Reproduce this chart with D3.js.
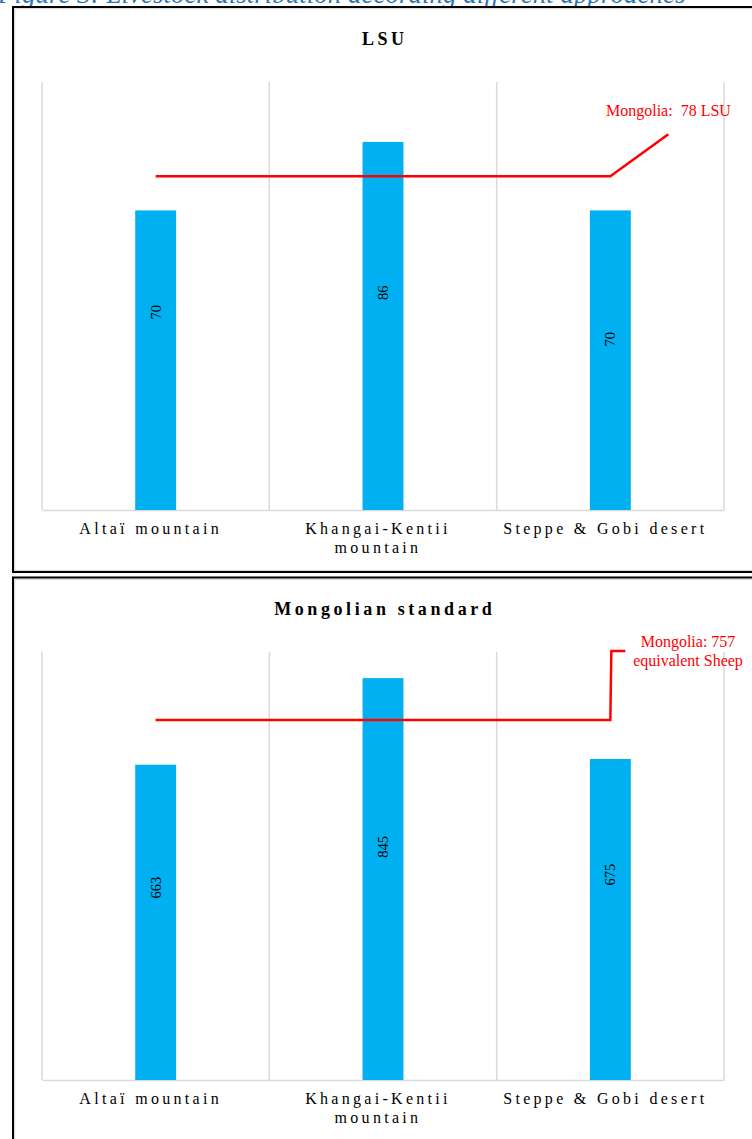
<!DOCTYPE html>
<html>
<head>
<meta charset="utf-8">
<script src="https://cdn.jsdelivr.net/npm/d3@7/dist/d3.min.js"></script>
<style>
  html, body { margin: 0; padding: 0; background: #fff; }
  svg { display: block; }
  text { font-family: "Liberation Serif", "Times New Roman", serif; }
</style>
</head>
<body>
<svg id="chart" width="752" height="1139"></svg>
<script>
// Regions and their axis labels (one entry per line)
const categories = ["Altaï mountain", "Khangai-Kentii mountain", "Steppe & Gobi desert"];
const tickLabels = [["Altaï mountain"], ["Khangai-Kentii", "mountain"], ["Steppe & Gobi desert"]];

// Livestock units (LSU) per region, national reference and axis maximum
const lsuValues = [70, 86, 70];
const lsuNational = 78;
const lsuAxisMax = 100;

// Mongolian standard (sheep equivalent) per region, national reference and axis maximum
const sheepValues = [663, 845, 675];
const sheepNational = 757;
const sheepAxisMax = 900;

// Where each value label sits along its bar (share of bar height)
const lsuLabelAt = [0.66, 0.59, 0.57];
const sheepLabelAt = [0.61, 0.58, 0.64];

const captionText = "Figure 3: Livestock distribution according different approaches";

const svg = d3.select("#chart");
const BAR_COLOR = "#00b0f0";
const RED = "#ff0000";
const GRID = "#d9d9d9";

// Figure caption (top edge of the page)
svg.append("text")
  .attr("x", -2).attr("y", 3)
  .attr("font-size", 27)
  .attr("font-style", "italic")
  .attr("fill", "#2f75b5")
  .text(captionText);

function drawPanel(opts) {
  const g = svg.append("g");

  // Panel frame
  g.append("rect")
    .attr("x", opts.frame[0]).attr("y", opts.frame[1])
    .attr("width", opts.frame[2]).attr("height", opts.frame[3])
    .attr("fill", "#fff").attr("stroke", "#000").attr("stroke-width", 2);
  g.append("rect")
    .attr("x", opts.frame[0] + 1.8).attr("y", opts.frame[1] + 1.8)
    .attr("width", opts.frame[2] - 3.6).attr("height", opts.frame[3] - 3.6)
    .attr("fill", "none").attr("stroke", "#c8c8c8").attr("stroke-width", 0.8);

  const x = d3.scaleBand().domain(categories).range([42, 724]).padding(0);
  const y = d3.scaleLinear().domain([0, opts.max]).range([opts.bottom, opts.top]);
  const barW = x.bandwidth() * 0.18;

  // Title
  g.append("text")
    .attr("x", 383 + 1.8).attr("y", opts.top - 37)
    .attr("text-anchor", "middle")
    .attr("font-size", 18).attr("font-weight", "bold")
    .attr("letter-spacing", 3.6)
    .text(opts.title);

  // Vertical category gridlines
  const edges = categories.map(c => x(c)).concat([x.range()[1]]);
  g.selectAll(".vgrid").data(edges).enter().append("line")
    .attr("x1", d => d).attr("x2", d => d)
    .attr("y1", y(opts.max)).attr("y2", y(0))
    .attr("stroke", GRID).attr("stroke-width", 1.5);

  // Category axis
  const axis = g.append("g")
    .attr("transform", `translate(0,${y(0)})`)
    .call(d3.axisBottom(x).tickSize(0).tickFormat(""));
  axis.select(".domain").attr("stroke", GRID).attr("stroke-width", 1.5);

  const tl = g.selectAll(".tick-label").data(categories).enter().append("text")
    .attr("text-anchor", "middle")
    .attr("font-size", 16)
    .attr("letter-spacing", 3.3)
    .attr("fill", "#000");
  tl.each(function(d, i) {
    const t = d3.select(this);
    tickLabels[i].forEach((line, j) => {
      t.append("tspan")
        .attr("x", x(d) + x.bandwidth() / 2 - 5)
        .attr("y", y(0) + 24 + j * 19)
        .text(line);
    });
  });

  // Bars
  g.selectAll(".bar").data(opts.values).enter().append("rect")
    .attr("x", (d, i) => x(categories[i]) + (x.bandwidth() - barW) / 2)
    .attr("width", barW)
    .attr("y", d => y(d))
    .attr("height", d => y(0) - y(d))
    .attr("fill", BAR_COLOR);

  // Value labels, rotated inside the bars
  g.selectAll(".val").data(opts.values).enter().append("text")
    .attr("transform", (d, i) => {
      const cx = x(categories[i]) + x.bandwidth() / 2;
      const cy = y(d * opts.labelAt[i]);
      return `translate(${cx},${cy}) rotate(-90)`;
    })
    .attr("text-anchor", "middle")
    .attr("dy", "0.35em")
    .attr("font-size", 14.5)
    .attr("fill", "#000")
    .text(d => d);

  // National reference line across the regions
  const cx0 = x(categories[0]) + x.bandwidth() / 2;
  const cx2 = x(categories[2]) + x.bandwidth() / 2;
  const ly = y(opts.national);
  const path = d3.path();
  path.moveTo(cx0, ly);
  path.lineTo(cx2, ly);
  opts.leader(path, cx2, ly);
  g.append("path")
    .attr("d", path.toString())
    .attr("fill", "none").attr("stroke", RED).attr("stroke-width", 2.5)
    .attr("stroke-linejoin", "miter");

  const lab = g.append("text")
    .attr("fill", RED).attr("font-size", 16)
    .attr("text-anchor", opts.labelAnchor)
    .style("white-space", "pre");
  opts.labelLines.forEach((line, j) => {
    lab.append("tspan")
      .attr("x", opts.labelPos[0])
      .attr("y", opts.labelPos[1] + j * 18.5)
      .text(line);
  });
}

drawPanel({
  frame: [13, 7, 760, 565],
  top: 82, bottom: 510,
  max: lsuAxisMax,
  values: lsuValues,
  labelAt: lsuLabelAt,
  national: lsuNational,
  title: "LSU",
  leader: (p, xk, yk) => { p.lineTo(xk + 58, yk - 42); },
  labelLines: [`Mongolia:  ${lsuNational} LSU`],
  labelAnchor: "start",
  labelPos: [606, 116]
});

drawPanel({
  frame: [13, 577.5, 760, 600],
  top: 652, bottom: 1080,
  max: sheepAxisMax,
  values: sheepValues,
  labelAt: sheepLabelAt,
  national: sheepNational,
  title: "Mongolian standard",
  leader: (p, xk, yk) => { p.lineTo(xk + 1, 651); p.lineTo(xk + 15, 651); },
  labelLines: [`Mongolia: ${sheepNational}`, "equivalent Sheep"],
  labelAnchor: "middle",
  labelPos: [688, 647]
});
</script>
</body>
</html>
